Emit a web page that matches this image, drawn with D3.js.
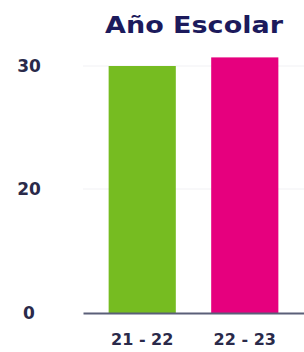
<!doctype html>
<html lang="es">
<head>
<meta charset="utf-8">
<title>Año Escolar</title>
<script src="https://d3js.org/d3.v7.min.js"></script>
<style>
  html, body { margin: 0; padding: 0; background: #fff; }
  svg { display: block; }
  text { font-family: "DejaVu Sans", sans-serif; }
</style>
</head>
<body>
<div id="chart"></div>
<script>
  // data
  var years = ["21 - 22", "22 - 23"];
  var values = [30, 30.7];
  var colors = ["#76bc21", "#e6007e"];
  var yTicks = [0, 20, 30];

  var width = 304, height = 352;

  var svg = d3.select("#chart").append("svg")
      .attr("width", width)
      .attr("height", height);

  // the picture spaces 0, 20 and 30 evenly, so the scale is piecewise
  var y = d3.scaleLinear()
      .domain([0, 20, 30])
      .range([313, 189, 66]);

  var x = d3.scaleBand()
      .domain(years)
      .range([83, 304])
      .paddingInner(0.345)
      .paddingOuter(0.25);

  // faint grid
  svg.append("g")
    .selectAll("line")
    .data(yTicks.slice(1))
    .enter().append("line")
      .attr("x1", 83).attr("x2", width)
      .attr("y1", function (d) { return y(d); })
      .attr("y2", function (d) { return y(d); })
      .attr("stroke", "#f1f1f4")
      .attr("stroke-width", 1);

  svg.selectAll(".bar")
    .data(values)
    .enter().append("rect")
      .attr("class", "bar")
      .attr("x", function (d, i) { return x(years[i]); })
      .attr("width", x.bandwidth())
      .attr("y", function (d) { return y(d); })
      .attr("height", function (d) { return y(0) - y(d); })
      .attr("fill", function (d, i) { return colors[i]; });

  // y axis labels
  var yAxis = svg.append("g")
      .attr("transform", "translate(29,0)")
      .call(d3.axisLeft(y).tickValues(yTicks).tickSize(0).tickPadding(0));
  yAxis.select(".domain").remove();
  yAxis.selectAll("text")
      .attr("text-anchor", "middle")
      .attr("font-family", "'DejaVu Sans', sans-serif")
      .attr("font-size", 17)
      .attr("font-weight", "bold")
      .attr("fill", "#2a2a4a");

  // x axis
  var xAxis = svg.append("g")
      .attr("transform", "translate(0," + y(0) + ")")
      .call(d3.axisBottom(x).tickSize(0).tickPadding(21));
  xAxis.select(".domain")
      .attr("stroke", "#5a5f78")
      .attr("stroke-width", 2);
  xAxis.selectAll("text")
      .attr("font-family", "'DejaVu Sans', sans-serif")
      .attr("font-size", 16)
      .attr("font-weight", "bold")
      .attr("fill", "#2a2a4a");

  svg.append("text")
      .attr("x", 194)
      .attr("y", 33)
      .attr("text-anchor", "middle")
      .attr("font-size", 23)
      .attr("font-weight", "bold")
      .attr("fill", "#1c1a5c")
      .attr("textLength", 178)
      .attr("lengthAdjust", "spacingAndGlyphs")
      .text("Año Escolar");
</script>
</body>
</html>
